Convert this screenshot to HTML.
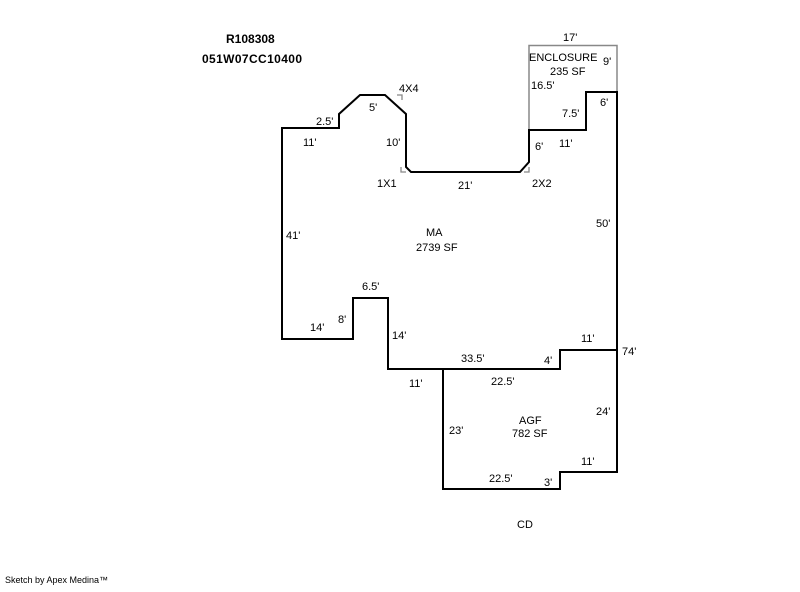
<!DOCTYPE html>
<html><head><style>
body{margin:0;background:#fff}
svg text{font-family:"Liberation Sans",sans-serif;font-size:11px;fill:#000}
</style></head><body>
<svg width="800" height="587" xmlns="http://www.w3.org/2000/svg">
<path d="M529,130 V45.5 H617 V92" fill="none" stroke="#888" stroke-width="1.5"/>
<g stroke="#888" stroke-width="1.3" fill="none">
<path d="M397,95 h5 v5"/><path d="M401,167 v5 h5"/><path d="M524,172 h5 v-5"/>
</g>
<g fill="none" stroke="#000" stroke-width="2">
<path d="M282,339 V128 H339 V114 L360,95 H385 L406,114 V167 L411,172 H520 L529,162 V130 H586 V92 H617 V472 H560 V489 H443 V369 H388 V298 H353 V339 Z"/>
<path d="M443,369 H560 V350 H617"/>
</g>
<text x="226" y="43" style="font-weight:bold;font-size:12px">R108308</text>
<text x="202" y="63" style="font-weight:bold;font-size:12px" textLength="100">051W07CC10400</text>
<text x="563" y="41">17'</text>
<text x="529" y="61">ENCLOSURE</text>
<text x="603" y="65">9'</text>
<text x="550" y="75">235 SF</text>
<text x="531" y="89">16.5'</text>
<text x="600" y="106">6'</text>
<text x="562" y="117">7.5'</text>
<text x="399" y="92">4X4</text>
<text x="369" y="111">5'</text>
<text x="316" y="125">2.5'</text>
<text x="303" y="146">11'</text>
<text x="386" y="146">10'</text>
<text x="535" y="150">6'</text>
<text x="559" y="147">11'</text>
<text x="377" y="187">1X1</text>
<text x="458" y="189">21'</text>
<text x="532" y="187">2X2</text>
<text x="596" y="227">50'</text>
<text x="286" y="239">41'</text>
<text x="426" y="236">MA</text>
<text x="416" y="251">2739 SF</text>
<text x="362" y="290">6.5'</text>
<text x="338" y="323">8'</text>
<text x="310" y="331">14'</text>
<text x="392" y="339">14'</text>
<text x="581" y="342">11'</text>
<text x="622" y="355">74'</text>
<text x="461" y="362">33.5'</text>
<text x="544" y="364">4'</text>
<text x="409" y="387">11'</text>
<text x="491" y="385">22.5'</text>
<text x="596" y="415">24'</text>
<text x="519" y="424">AGF</text>
<text x="512" y="437">782 SF</text>
<text x="449" y="434">23'</text>
<text x="581" y="465">11'</text>
<text x="489" y="482">22.5'</text>
<text x="544" y="486">3'</text>
<text x="517" y="528">CD</text>
<text x="5" y="583" style="font-size:9px">Sketch by Apex Medina™</text>
</svg>
</body></html>
